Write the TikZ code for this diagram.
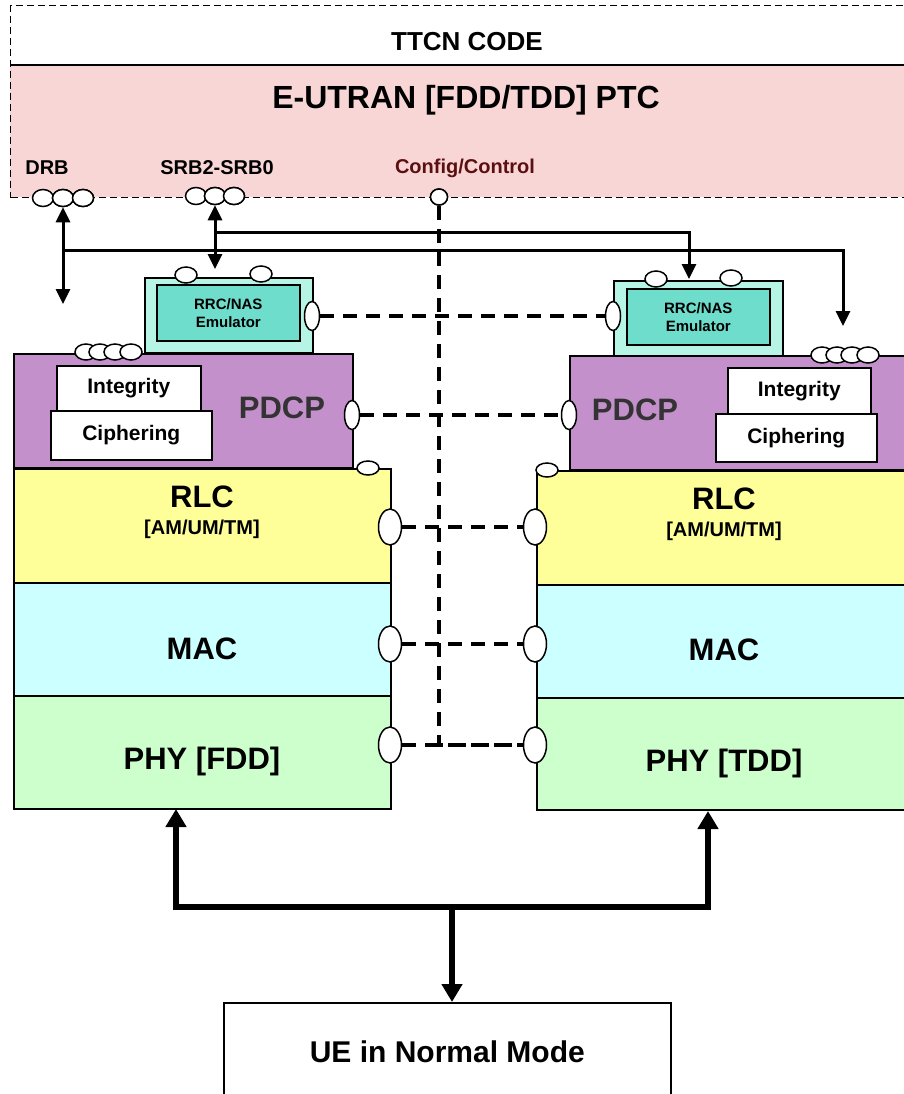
\documentclass[tikz,border=0pt]{standalone}
\usepackage{fontspec}
\setmainfont{Liberation Sans}
\usepackage{tikz}
\usetikzlibrary{arrows.meta,positioning,shapes.geometric}
\definecolor{PtcPink}{HTML}{F9D6D6}
\definecolor{PdcpPurple}{HTML}{C490CB}
\definecolor{EmuOuter}{HTML}{B6F5E6}
\definecolor{EmuInner}{HTML}{6EDDCC}
\definecolor{RlcYellow}{HTML}{FFFF99}
\definecolor{MacCyan}{HTML}{CCFFFF}
\definecolor{PhyGreen}{HTML}{CCFFCC}
\definecolor{CtrlRed}{HTML}{5A1010}
\definecolor{PdcpText}{HTML}{333333}

\begin{document}
\begin{tikzpicture}[
    x=1pt, y=-1pt,
    layer/.style={rectangle, draw, line width=1.6pt, anchor=north west, inner sep=0pt},
    fnbox/.style={rectangle, draw, line width=1.6pt, fill=white, anchor=north west, inner sep=0pt, font=\bfseries\fontsize{21pt}{24pt}\selectfont},
    sap/.style={ellipse, draw, line width=1.5pt, fill=white, inner sep=0pt, minimum width=22pt, minimum height=16pt},
    vsap/.style={sap, minimum width=15pt, minimum height=29pt},
    bigsap/.style={sap, minimum width=23pt, minimum height=36pt},
    big/.style={font=\bfseries\fontsize{31pt}{34pt}\selectfont},
    mid/.style={font=\bfseries\fontsize{20pt}{23pt}\selectfont},
    link/.style={line width=3.6pt, dash pattern=on 14pt off 9pt},
    arrow/.style={line width=3pt, -{Triangle[length=15pt,width=14pt]}},
    biarrow/.style={line width=3pt, {Triangle[length=15pt,width=14pt]}-{Triangle[length=15pt,width=14pt]}},
    uearrow/.style={line width=6pt, -{Triangle[length=18pt,width=20pt]}}
]
\useasboundingbox (0,0) rectangle (904,1094);
\clip (0,0) rectangle (904,1094);

% TTCN code and PTC
\node[rectangle, fill=PtcPink, anchor=north west, inner sep=0pt, minimum width=900pt, minimum height=132pt] (ptc) at (10,65) {};
\node[rectangle, draw, line width=1.3pt, dash pattern=on 7pt off 4pt, anchor=north west, inner sep=0pt, minimum width=900pt, minimum height=192pt] (ttcn) at (10,5) {};
\draw[line width=1.8pt] (ptc.north west) -- (ptc.north east);
\node[font=\bfseries\fontsize{26pt}{30pt}\selectfont] (ttcnlbl) at (467,42) {TTCN CODE};
\node[font=\bfseries\fontsize{32pt}{36pt}\selectfont] (ptclbl) at (466,100) {E-UTRAN [FDD/TDD] PTC};
\node[mid] (drblbl) at (47,168) {DRB};
\node[mid] (srblbl) at (217,168) {SRB2-SRB0};
\node[mid, text=CtrlRed] (cfglbl) at (465,168) {Config/Control};

% Left stack (FDD)
\node[layer, fill=EmuOuter, minimum width=168pt, minimum height=75pt] (rrcL) at (144,277) {};
\node[layer, fill=EmuInner, minimum width=143pt, minimum height=56pt, align=center, font=\bfseries\fontsize{15pt}{18pt}\selectfont] (emuL) at (156,284) {RRC/NAS\\Emulator};
\node[layer, fill=PdcpPurple, minimum width=339pt, minimum height=114pt] (pdcpL) at (13,353) {};
\node[big, text=PdcpText] (pdcplblL) at (282,408) {PDCP};
\node[fnbox, minimum width=144pt, minimum height=45pt] (integL) at (56,365) {Integrity};
\node[fnbox, minimum width=161pt, minimum height=49pt] (ciphL) at (50,410) {Ciphering};
\node[layer, fill=RlcYellow, minimum width=377pt, minimum height=114pt] (rlcL) at (13,468) {};
\node[big] (rlclblL) at (202,497) {RLC};
\node[mid] (rlcmodeL) at (202,529) {[AM/UM/TM]};
\node[layer, fill=MacCyan, minimum width=377pt, minimum height=113pt] (macL) at (13,582) {};
\node[big] (maclblL) at (202,649) {MAC};
\node[layer, fill=PhyGreen, minimum width=377pt, minimum height=113pt] (phyL) at (13,695) {};
\node[big] (phylblL) at (202,761) {PHY [FDD]};

% Right stack (TDD)
\node[layer, fill=EmuOuter, minimum width=169pt, minimum height=75pt] (rrcR) at (613,280) {};
\node[layer, fill=EmuInner, minimum width=143pt, minimum height=56pt, align=center, font=\bfseries\fontsize{15pt}{18pt}\selectfont] (emuR) at (626,288) {RRC/NAS\\Emulator};
\node[layer, fill=PdcpPurple, minimum width=345pt, minimum height=114pt] (pdcpR) at (569,355) {};
\node[big, text=PdcpText] (pdcplblR) at (635,410) {PDCP};
\node[fnbox, minimum width=143pt, minimum height=46pt] (integR) at (727,367) {Integrity};
\node[fnbox, minimum width=161pt, minimum height=48pt] (ciphR) at (715,413) {Ciphering};
\node[layer, fill=RlcYellow, minimum width=380pt, minimum height=114pt] (rlcR) at (536,470) {};
\node[big] (rlclblR) at (724,499) {RLC};
\node[mid] (rlcmodeR) at (724,531) {[AM/UM/TM]};
\node[layer, fill=MacCyan, minimum width=380pt, minimum height=113pt] (macR) at (536,584) {};
\node[big] (maclblR) at (724,650) {MAC};
\node[layer, fill=PhyGreen, minimum width=380pt, minimum height=112pt] (phyR) at (536,697) {};
\node[big] (phylblR) at (724,763) {PHY [TDD]};

% UE
\node[fnbox, minimum width=447pt, minimum height=98pt, font=\bfseries\fontsize{30pt}{34pt}\selectfont] (ue) at (223,1002) {UE in Normal Mode};

% Service access points
\node[sap, minimum width=21pt, minimum height=17pt] (drbA) at (43,198) {};
\node[sap, minimum width=21pt, minimum height=17pt] (drbB) at (63,198) {};
\node[sap, minimum width=21pt, minimum height=17pt] (drbC) at (83,198) {};
\node[sap, minimum width=21pt, minimum height=17pt] (srbA) at (196,196) {};
\node[sap, minimum width=21pt, minimum height=17pt] (srbB) at (215,196) {};
\node[sap, minimum width=21pt, minimum height=17pt] (srbC) at (234,196) {};
\node[sap, minimum width=17pt, minimum height=16pt] (cfg) at (439,197) {};

\node[sap] (rrcSapLa) at (186,275) {};
\node[sap] (rrcSapLb) at (261,274) {};
\node[vsap] (rrcSapLc) at (312,316) {};
\node[sap] (pdcpSapLa) at (86,352) {};
\node[sap] (pdcpSapLb) at (100,352) {};
\node[sap] (pdcpSapLc) at (115,352) {};
\node[sap] (pdcpSapLd) at (131,352) {};
\node[vsap] (pdcpSapLe) at (352,415) {};
\node[sap, minimum height=14pt] (rlcSapLt) at (368,468) {};
\node[bigsap] (rlcSapL) at (390,527) {};
\node[bigsap] (macSapL) at (390,644) {};
\node[bigsap] (phySapL) at (390,745) {};

\node[sap] (rrcSapRa) at (656,279) {};
\node[sap] (rrcSapRb) at (731,278) {};
\node[vsap] (rrcSapRc) at (613,316) {};
\node[sap] (pdcpSapRa) at (822,355) {};
\node[sap] (pdcpSapRb) at (837,355) {};
\node[sap] (pdcpSapRc) at (852,355) {};
\node[sap] (pdcpSapRd) at (868,355) {};
\node[vsap] (pdcpSapRe) at (569,415) {};
\node[sap, minimum height=14pt] (rlcSapRt) at (547,470) {};
\node[bigsap] (rlcSapR) at (535,527) {};
\node[bigsap] (macSapR) at (535,644) {};
\node[bigsap] (phySapR) at (535,745) {};

% Peer links and config
\draw[link] (cfg.south) |- (phySapR.west);
\draw[link] (rrcSapLc.east) -- (rrcSapRc.west);
\draw[link] (pdcpSapLe.east) -- (pdcpSapRe.west);
\draw[link] (rlcSapL.east) -- (rlcSapR.west);
\draw[link] (macSapL.east) -- (macSapR.west);
\draw[link] (phySapL.east) -- (phySapR.west);

% DRB and SRB routing
\coordinate (drbTap) at (63,250);
\coordinate (drbLin) at (63,304);
\coordinate (drbRin) at (843,326);
\coordinate (srbTap) at (215,232);
\coordinate (srbLin) at (215,269);
\coordinate (srbRin) at (689,279);
\draw[biarrow] (drbB.south) -- (drbLin);
\draw[arrow] (drbTap) -| (drbRin);
\draw[biarrow] (srbB.south) -- (srbLin);
\draw[arrow] (srbTap) -| (srbRin);

% Air interface
\coordinate (ueTap) at (452,907);
\coordinate (phyLin) at (176,809);
\coordinate (phyRin) at (708,811);
\draw[uearrow] (ueTap) -- (ueTap |- ue.north);
\draw[uearrow] (ueTap) -| (phyLin);
\draw[uearrow] (ueTap) -| (phyRin);

% redraw saps on top of lines
\node[sap, minimum width=21pt, minimum height=17pt] at (drbB) {};
\node[sap, minimum width=21pt, minimum height=17pt] at (drbC) {};
\node[sap, minimum width=21pt, minimum height=17pt] at (srbB) {};
\node[sap, minimum width=21pt, minimum height=17pt] at (srbC) {};
\node[sap, minimum width=17pt, minimum height=16pt] at (cfg) {};
\end{tikzpicture}
\end{document}
